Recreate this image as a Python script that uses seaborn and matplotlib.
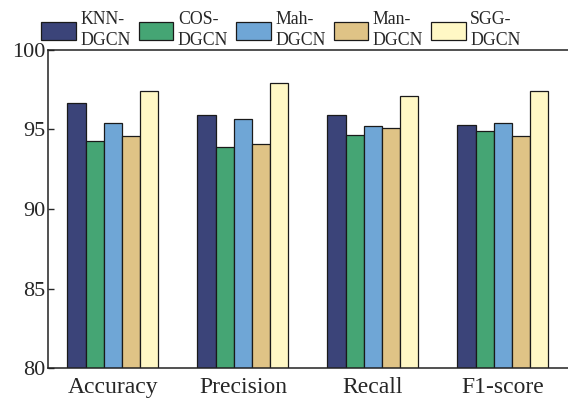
# Grouped bar chart: DGCN variants by metric
import pandas as pd
import matplotlib.pyplot as plt
import seaborn as sns

# Data
metrics = ["Accuracy", "Precision", "Recall", "F1-score"]
models = ["KNN-\nDGCN", "COS-\nDGCN", "Mah-\nDGCN", "Man-\nDGCN", "SGG-\nDGCN"]
knn = [96.65, 95.88, 95.90, 95.25]
cos = [94.25, 93.90, 94.67, 94.88]
mah = [95.42, 95.63, 95.20, 95.42]
man = [94.58, 94.10, 95.10, 94.60]
sgg = [97.42, 97.92, 97.10, 97.42]
colors = ["#3b4479", "#45a574", "#6fa6d6", "#dfc386", "#fff8c5"]

rows = []
for name, vals in zip(models, [knn, cos, mah, man, sgg]):
    for m, v in zip(metrics, vals):
        rows.append({"Metric": m, "Model": name, "Value": v})
df = pd.DataFrame(rows)

# Style
sns.set_style("ticks")
plt.rcParams['font.family'] = 'serif'
plt.rcParams['font.serif'] = ['Liberation Serif']

fig = plt.figure(figsize=(5.68, 4.03), dpi=100)
ax = fig.add_axes([0.0845, 0.086, 0.9155, 0.791])

sns.barplot(data=df, x="Metric", y="Value", hue="Model", order=metrics,
            hue_order=models, palette=colors, width=0.7, edgecolor="#1a1a1a",
            linewidth=0.9, saturation=1, ax=ax)

ax.set_ylim(80, 100)
ax.set_xlim(-0.5, 3.5)
ax.set_yticks([80, 85, 90, 95, 100])
ax.set_xlabel("")
ax.set_ylabel("")
ax.tick_params(axis="y", direction="in", length=4, width=1, labelsize=16, pad=2)
ax.tick_params(axis="x", length=0, labelsize=17, pad=6)

for side in ["left", "bottom", "top"]:
    ax.spines[side].set_linewidth(1.1)
    ax.spines[side].set_color("#222222")
ax.spines["right"].set_visible(False)

# Legend above the plot
leg = ax.legend(loc="lower center", bbox_to_anchor=(0.448, 0.995), ncol=5,
                frameon=False, fontsize=12.8,
                handlelength=1.95, handleheight=1.2, handletextpad=0.25,
                columnspacing=0.45, borderaxespad=0, borderpad=0.1)
for t in leg.get_texts():
    t.set_linespacing(1.3)

plt.savefig("out.png", dpi=100)
